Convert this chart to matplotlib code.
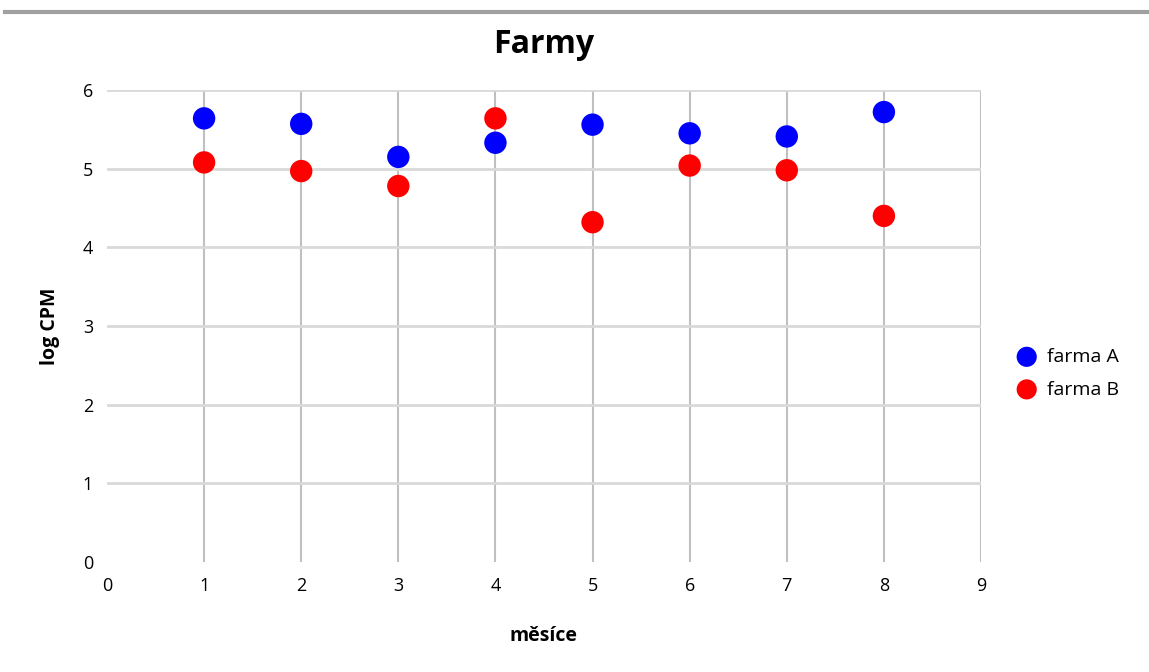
import numpy as np
import matplotlib.pyplot as plt
from matplotlib.lines import Line2D

# měsíce a hodnoty log CPM pro obě farmy
mesice = [1, 2, 3, 4, 5, 6, 7, 8]
farma_a = [5.64, 5.57, 5.15, 5.33, 5.56, 5.45, 5.41, 5.72]
farma_b = [5.08, 4.97, 4.78, 5.64, 4.32, 5.04, 4.98, 4.40]

plt.rcParams['font.family'] = ['Open Sans', 'DejaVu Sans']

fig = plt.figure(figsize=(11.49, 6.72), dpi=100)
ax = fig.add_axes([0.0931, 0.1637, 0.7607, 0.7023])

# šedá linka nahoře přes celou šířku
fig.add_artist(Line2D([0.004, 1.0], [0.982, 0.982], transform=fig.transFigure,
                      color='#a0a0a0', lw=3))

ax.scatter(mesice, farma_a, s=260, color='#0000ff', zorder=3, label='farma A',
           edgecolors='none')
ax.scatter(mesice, farma_b, s=260, color='#ff0000', zorder=3, label='farma B',
           edgecolors='none')

ax.set_xlim(0, 9)
ax.set_ylim(0, 6)
ax.set_xticks(range(0, 10))
ax.set_yticks(range(0, 7))

# mřížka – svislé čáry pro každý měsíc, vodorovné pro každou jednotku
for x in range(1, 10):
    ax.axvline(x, color='#c0c0c0', lw=1.5, zorder=1)
for y in range(1, 7):
    ax.axhline(y, color='#d9d9d9', lw=2, zorder=1)

for s in ax.spines.values():
    s.set_visible(False)
ax.tick_params(length=0, labelsize=13, pad=11)
ax.tick_params(axis='y', pad=10)

ax.set_title('Farmy', fontsize=23, fontweight='bold', pad=27)
ax.set_xlabel('měsíce', fontsize=14, fontweight='bold', labelpad=22)
ax.set_ylabel('log CPM', fontsize=14, fontweight='bold', labelpad=16)

ax.legend(loc='center left', bbox_to_anchor=(1.01, 0.40), frameon=False,
          fontsize=14, handletextpad=0.05, markerscale=0.9, labelspacing=0.75)

fig.savefig('out.png', dpi=100)
